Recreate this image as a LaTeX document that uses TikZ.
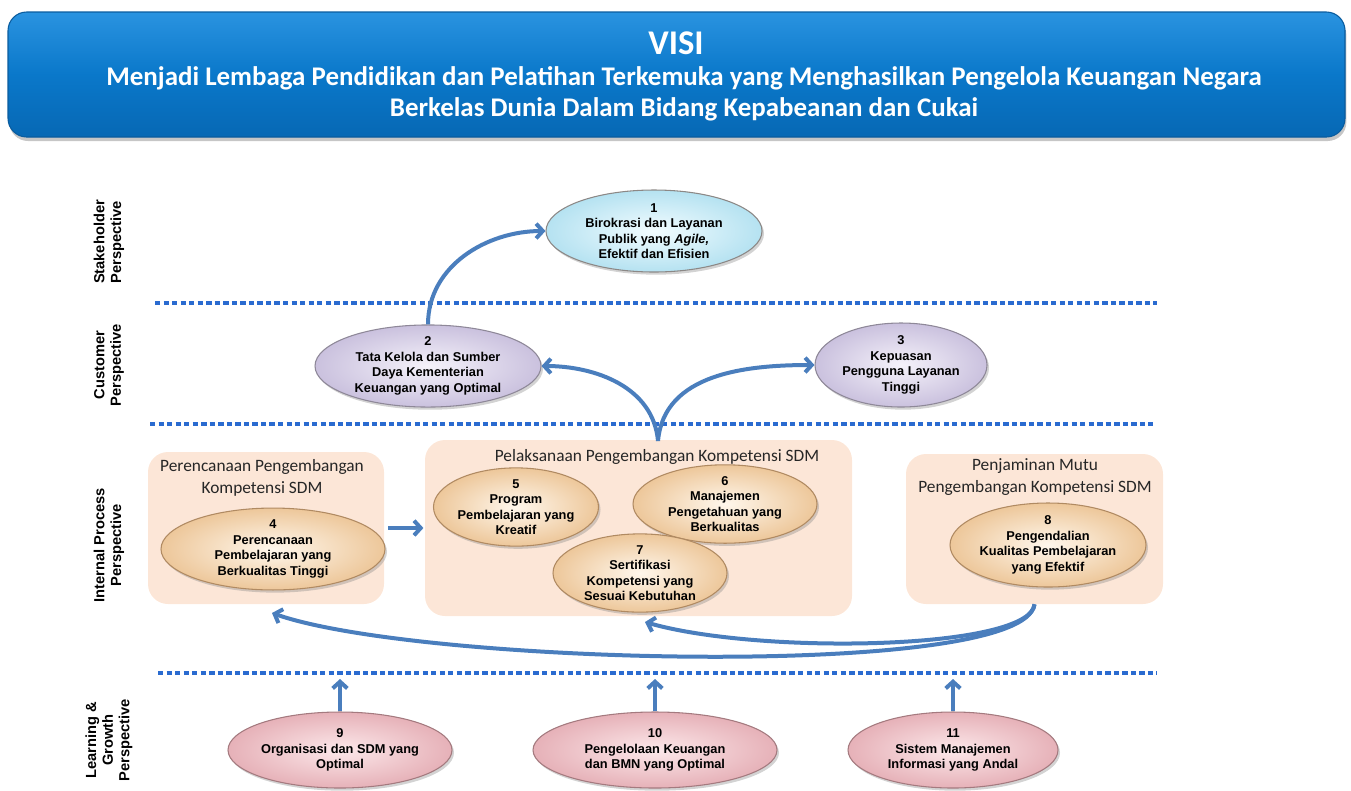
\documentclass[tikz,border=0pt]{standalone}
\usepackage{fontspec}
\setmainfont{Liberation Sans}
\newfontfamily\calib{Carlito}
\usetikzlibrary{arrows.meta,shapes.geometric,shadows,calc}
\definecolor{hdrTop}{HTML}{2A93E0}
\definecolor{hdrMid}{HTML}{0A78CA}
\definecolor{hdrBot}{HTML}{0768B4}
\definecolor{hdrEdge}{HTML}{0A5C9E}
\definecolor{dotc}{HTML}{2A6BD0}
\definecolor{arrc}{HTML}{4A7EBD}
\definecolor{boxc}{HTML}{FCE6D7}
\definecolor{iC}{HTML}{F2FCFF}\definecolor{oC}{HTML}{B5E2F1}\definecolor{bC}{HTML}{8C8886}
\definecolor{iL}{HTML}{F5F2FA}\definecolor{oL}{HTML}{CAC1DE}\definecolor{bL}{HTML}{8E8898}
\definecolor{iP}{HTML}{FFF7EC}\definecolor{oP}{HTML}{EDC79A}\definecolor{bP}{HTML}{B08A62}
\definecolor{iK}{HTML}{FCE8EA}\definecolor{oK}{HTML}{E6B1B8}\definecolor{bK}{HTML}{A47A7F}
\begin{document}
\begin{tikzpicture}[x=0.75pt,y=-0.75pt,
  sz/.style 2 args={minimum width=#1*1.5pt, minimum height=#2*1.5pt},
  ellbase/.style={ellipse, inner sep=0pt, line width=0.8pt, align=center,
    font=\fontsize{9.6}{11.6}\selectfont\bfseries,
    drop shadow={opacity=0.35, shadow xshift=1.5pt, shadow yshift=-2pt}},
  ellC/.style={ellbase, draw=bC, inner color=iC, outer color=oC},
  ellL/.style={ellbase, draw=bL, inner color=iL, outer color=oL},
  ellP/.style={ellbase, draw=bP, inner color=iP, outer color=oP},
  ellK/.style={ellbase, draw=bK, inner color=iK, outer color=oK},
  grp/.style={rounded corners=15pt, fill=boxc, inner sep=0pt},
  grptitle/.style={align=center, font=\calib\fontsize{13}{16.5}\selectfont, text=black!85},
  lbl/.style={rotate=90, align=center, font=\fontsize{11}{12.5}\selectfont\bfseries},
  hdrtxt/.style={text=white, anchor=base, font=\calib\bfseries\fontsize{20.2}{22}\selectfont},
  dotline/.style={draw=dotc, line width=3pt, dash pattern=on 4pt off 2.4pt},
  arr/.style={draw=arrc, line width=3pt, -{Straight Barb[length=5pt,width=11pt]}}
]
\useasboundingbox (0,0) rectangle (1351,790);

% header
\node[rounded corners=14pt, minimum width=1337*0.75pt, minimum height=125*0.75pt,
  top color=hdrTop, bottom color=hdrBot, middle color=hdrMid, draw=hdrEdge, line width=0.8pt,
  drop shadow={opacity=0.45, shadow xshift=1pt, shadow yshift=-3pt}] (hdr) at (676.5,74.5) {};
\node[hdrtxt, font=\calib\bfseries\fontsize{26}{28}\selectfont] (visi) at (676,54) {VISI};
\node[hdrtxt] (v1) at (684,85) {Menjadi Lembaga Pendidikan dan Pelatihan Terkemuka yang Menghasilkan Pengelola Keuangan Negara};
\node[hdrtxt] (v2) at (684,116) {Berkelas Dunia Dalam Bidang Kepabeanan dan Cukai};

% perspective labels
\node[lbl] (lst) at (109,242) {Stakeholder\\Perspective};
\node[lbl] (lcu) at (109,365) {Customer\\Perspective};
\node[lbl] (lin) at (109,545) {Internal Process\\Perspective};
\node[lbl] (llg) at (109,740) {Learning \&\\Growth\\Perspective};

% dotted separators
\draw[dotline] (155,303) -- (1157,303);
\draw[dotline] (150,424) -- (1153,424);
\draw[dotline] (158,673) -- (1157,673);

% group boxes
\node[grp, minimum width=236*0.75pt, minimum height=152*0.75pt] (A) at (266,528) {};
\node[grp, minimum width=427*0.75pt, minimum height=176*0.75pt] (B) at (638.5,528) {};
\node[grp, minimum width=257*0.75pt, minimum height=150*0.75pt] (C) at (1034.5,529) {};
\node[grptitle] (At) at (262,478) {Perencanaan Pengembangan\\Kompetensi SDM};
\node[grptitle] (Bt) at (657,457) {Pelaksanaan Pengembangan Kompetensi SDM};
\node[grptitle] (Ct) at (1035,477) {Penjaminan Mutu\\Pengembangan Kompetensi SDM};

% objectives
\node[ellC, sz={108}{41}] (n1) at (654,231) {1\\Birokrasi dan Layanan\\Publik yang \textit{Agile,}\\Efektif dan Efisien};
\node[ellL, sz={113}{41}] (n2) at (428,366) {2\\Tata Kelola dan Sumber\\Daya Kementerian\\Keuangan yang Optimal};
\node[ellL, sz={86}{42}] (n3) at (901,365) {3\\Kepuasan\\Pengguna Layanan\\Tinggi};
\node[ellP, sz={112}{39}] (n4) at (273,549) {4\\Perencanaan\\Pembelajaran yang\\Berkualitas Tinggi};
\node[ellP, sz={82}{38}] (n5) at (516,507) {5\\Program\\Pembelajaran yang\\Kreatif};
\node[ellP, sz={92}{36}] (n6) at (725,504) {6\\Manajemen\\Pengetahuan yang\\Berkualitas};
\node[ellP, sz={87}{35}] (n7) at (640,573) {7\\Sertifikasi\\Kompetensi yang\\Sesuai Kebutuhan};
\node[ellP, sz={98}{42}] (n8) at (1048,545) {8\\Pengendalian\\Kualitas Pembelajaran\\yang Efektif};
\node[ellK, sz={112}{38}] (n9) at (340,750) {9\\Organisasi dan SDM yang\\Optimal};
\node[ellK, sz={122}{38}] (n10) at (655,750) {10\\Pengelolaan Keuangan\\dan BMN yang Optimal};
\node[ellK, sz={105}{38}] (n11) at (953,750) {11\\Sistem Manajemen\\Informasi yang Andal};

% connector end points
\coordinate (br) at (658,441);
\coordinate (aIn) at (272,613);
\coordinate (bIn) at (645,622);
\coordinate (u9) at (340,679);
\coordinate (u10) at (655,679);
\coordinate (u11) at (953,679);

% connectors
\draw[arr] (n2.north) to[out=90,in=180] (n1.west);
\draw[arr] (br) to[out=95,in=0] (n2.east);
\draw[arr] (br) to[out=85,in=180] (n3.west);
\draw[arr, shorten <=3pt, shorten >=1pt] (A.east) -- (B.west);
\draw[arr] (C.south) .. controls (1025,680) and (420,665) .. (aIn);
\draw[arr] (C.south) .. controls (1030,650) and (760,655) .. (bIn);
\draw[arr] (n9.north) -- (u9);
\draw[arr] (n10.north) -- (u10);
\draw[arr] (n11.north) -- (u11);
\end{tikzpicture}
\end{document}
